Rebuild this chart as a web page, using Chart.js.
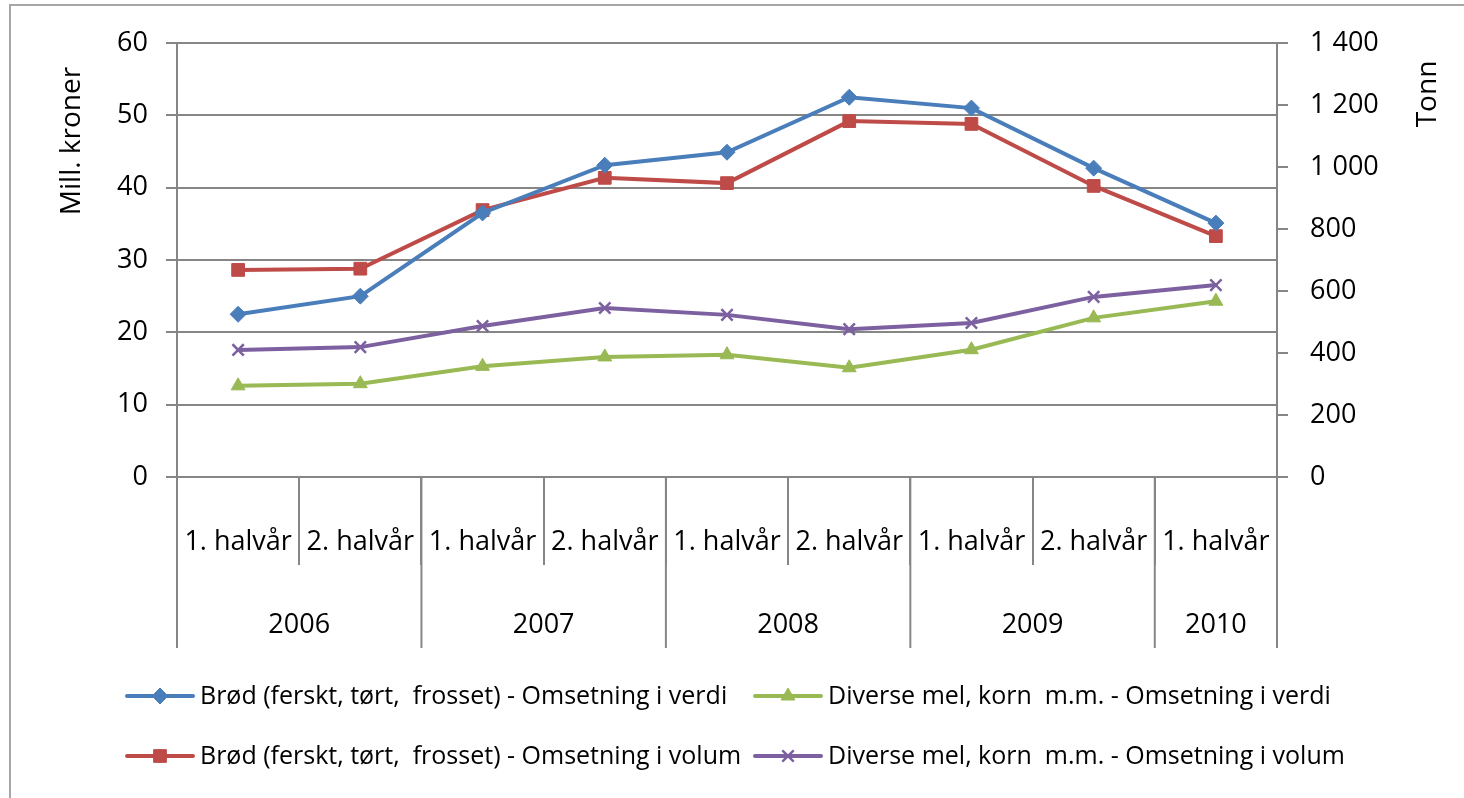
<!DOCTYPE html>
<html>
<head>
<meta charset="utf-8">
<script src="https://cdn.jsdelivr.net/npm/chart.js@4/dist/chart.umd.min.js"></script>
<style>
  html, body { margin: 0; padding: 0; background: #fff; }
  #boks { position: relative; width: 1464px; height: 798px; }
</style>
</head>
<body>
<div id="boks"><canvas id="graf"></canvas></div>
<script>
// Kategorier og verdier lest av originalfiguren
const halvaar = ['1. halvår', '2. halvår', '1. halvår', '2. halvår', '1. halvår', '2. halvår', '1. halvår', '2. halvår', '1. halvår'];
const aarstall = ['2006', '2007', '2008', '2009', '2010'];
const halvaarPerAar = [2, 2, 2, 2, 1];

const brodVerdi = [22.5, 25.0, 36.5, 43.1, 44.9, 52.5, 51.0, 42.7, 35.1];   // Mill. kroner
const melVerdi = [12.6, 12.9, 15.3, 16.6, 16.9, 15.1, 17.6, 22.0, 24.3];    // Mill. kroner
const brodVolum = [668, 672, 861, 965, 948, 1148, 1139, 939, 777];         // Tonn
const melVolum = [410, 419, 487, 545, 523, 477, 497, 581, 619];            // Tonn

const FONT = "'Open Sans', 'Noto Sans', sans-serif";
const GRAA = '#868686';

function serie(navn, data, farge, akse, stil, radius) {
    return {
        label: navn, data: data, yAxisID: akse,
        borderColor: farge, backgroundColor: farge, borderWidth: 4,
        pointStyle: stil, pointRadius: radius, pointHoverRadius: radius,
        pointBackgroundColor: farge, pointBorderColor: farge,
        pointBorderWidth: stil === 'crossRot' ? 2.5 : 1,
        tension: 0
    };
}

// Tusenskille med mellomrom: 1 400
function tusen(v) {
    if (v < 1000) return String(v);
    return Math.floor(v / 1000) + ' ' + String(v % 1000).padStart(3, '0');
}

// Ramme, aksetitler, årsrad og forklaring
const ekstra = {
    id: 'ekstra',
    afterDraw(chart) {
        const ctx = chart.ctx;
        const x = chart.scales.x;
        ctx.save();

        // ytre ramme (bare venstre og øvre kant synlig)
        ctx.strokeStyle = '#a6a6a6';
        ctx.lineWidth = 2;
        ctx.beginPath();
        ctx.moveTo(10, 798); ctx.lineTo(10, 5); ctx.lineTo(1464, 5);
        ctx.stroke();

        // aksetitler
        ctx.fillStyle = '#000';
        ctx.font = '28px ' + FONT;
        ctx.textAlign = 'center';
        ctx.textBaseline = 'middle';
        [['Mill. kroner', 72, 141], ['Tonn', 1428, 94]].forEach(([t, tx, ty]) => {
            ctx.save();
            ctx.translate(tx, ty);
            ctx.rotate(-Math.PI / 2);
            ctx.fillText(t, 0, 0);
            ctx.restore();
        });

        // årsgrupper under halvårene
        const halv = (x.getPixelForValue(1) - x.getPixelForValue(0)) / 2;
        ctx.strokeStyle = GRAA;
        ctx.lineWidth = 2;
        ctx.font = '27px ' + FONT;
        ctx.textBaseline = 'alphabetic';
        let start = 0;
        const skiller = [x.left];
        aarstall.forEach((aar, i) => {
            const slutt = start + halvaarPerAar[i] - 1;
            const midt = (x.getPixelForValue(start) + x.getPixelForValue(slutt)) / 2;
            ctx.fillText(aar, midt, 633);
            skiller.push(x.getPixelForValue(slutt) + halv);
            start = slutt + 1;
        });
        skiller.forEach(px => {
            ctx.beginPath();
            ctx.moveTo(px, x.top);
            ctx.lineTo(px, 648);
            ctx.stroke();
        });

        // forklaring i to kolonner
        const plass = [[127, 696], [127, 756], [755, 696], [755, 756]];
        const rekkefolge = [0, 2, 1, 3];
        ctx.font = '25px ' + FONT;
        ctx.textAlign = 'left';
        ctx.textBaseline = 'middle';
        rekkefolge.forEach((d, k) => {
            const ds = chart.data.datasets[d];
            const [lx, ly] = plass[k];
            ctx.strokeStyle = ds.borderColor;
            ctx.fillStyle = ds.borderColor;
            ctx.lineWidth = 4;
            ctx.lineCap = 'round';
            ctx.beginPath();
            ctx.moveTo(lx, ly); ctx.lineTo(lx + 66, ly);
            ctx.stroke();
            ctx.lineCap = 'butt';
            ctx.lineWidth = ds.pointBorderWidth;
            Chart.helpers.drawPoint(ctx, {
                pointStyle: ds.pointStyle, rotation: 0,
                radius: ds.pointRadius, borderWidth: ds.pointBorderWidth
            }, lx + 33, ly);
            ctx.fillStyle = '#000';
            ctx.fillText(ds.label, lx + 73, ly + 1);
        });
        ctx.restore();
    }
};

new Chart(document.getElementById('graf'), {
    type: 'line',
    data: {
        labels: halvaar,
        datasets: [
            serie('Brød (ferskt, tørt,  frosset) - Omsetning i verdi', brodVerdi, '#4a7ebb', 'y', 'rectRot', 8),
            serie('Diverse mel, korn  m.m. - Omsetning i verdi', melVerdi, '#98b954', 'y', 'triangle', 8),
            serie('Brød (ferskt, tørt,  frosset) - Omsetning i volum', brodVolum, '#be4b48', 'y2', 'rect', 9),
            serie('Diverse mel, korn  m.m. - Omsetning i volum', melVolum, '#7d60a0', 'y2', 'crossRot', 8)
        ]
    },
    options: {
        responsive: true,
        maintainAspectRatio: false,
        animation: false,
        layout: { padding: { top: 43, left: 0, right: 0, bottom: 0 } },
        plugins: { legend: { display: false }, tooltip: { enabled: false } },
        scales: {
            x: {
                offset: true,
                afterFit: s => { s.height = 321; },
                grid: { display: true, drawOnChartArea: false, offset: true, tickLength: 88, color: GRAA, lineWidth: 2 },
                border: { display: true, color: GRAA, width: 2 },
                ticks: { autoSkip: false, maxRotation: 0, padding: -39, color: '#000', font: { family: FONT, size: 27 } }
            },
            y: {
                position: 'left', min: 0, max: 60,
                afterFit: s => { s.width = 177; },
                grid: { color: GRAA, lineWidth: 2, tickLength: 11 },
                border: { display: true, color: GRAA, width: 2 },
                ticks: { stepSize: 10, padding: 18, color: '#000', font: { family: FONT, size: 27 } }
            },
            y2: {
                position: 'right', min: 0, max: 1400,
                afterFit: s => { s.width = 187; },
                grid: { drawOnChartArea: false, color: GRAA, lineWidth: 2, tickLength: 11 },
                border: { display: true, color: GRAA, width: 2 },
                ticks: { stepSize: 200, padding: 22, color: '#000', font: { family: FONT, size: 27 }, callback: v => tusen(v) }
            }
        }
    },
    plugins: [ekstra]
});
</script>
</body>
</html>
